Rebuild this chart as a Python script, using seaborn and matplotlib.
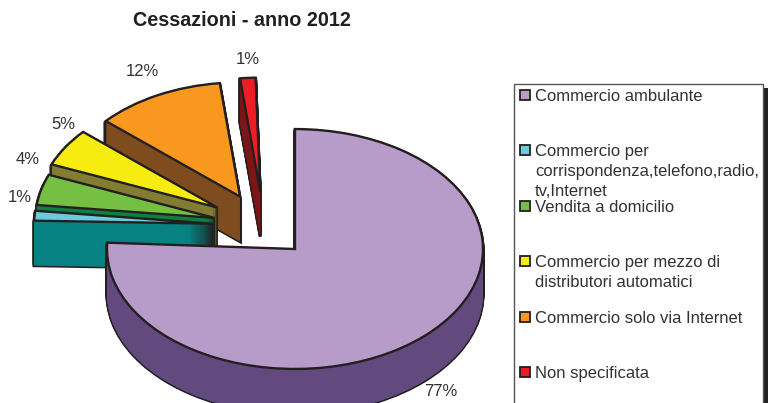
import matplotlib
matplotlib.use("Agg")
import matplotlib.pyplot as plt
import seaborn as sns
from matplotlib.patches import Rectangle

sns.set_theme(style="white", font="Liberation Sans")
plt.rcParams["text.hinting"] = "no_autohint"

##############################################################################
# Data
##############################################################################

categories = [
    "Commercio ambulante",
    "Commercio per\ncorrispondenza,telefono,radio,\ntv,Internet",
    "Vendita a domicilio",
    "Commercio per mezzo di\ndistributori automatici",
    "Commercio solo via Internet",
    "Non specificata",
]
# they round to the printed labels
values = [76.6, 1.4, 4.4, 5.4, 11.8, 1.4]
title = "Cessazioni - anno 2012"

##############################################################################
# Style
##############################################################################

top_colors = sns.color_palette(["#b79cc9", "#6acbdc", "#75c043", "#f7ec0f", "#f9981f", "#ee1c25"])
side_colors = sns.color_palette(["#624a7f", "#078182", "#0e8140", "#827d33", "#7f4c1f", "#7d1517"])
explode = [0, 0.285, 0.285, 0.307, 0.29, 0.30]
line_color = "#231f20"
text_color = "#333132"

WIDTH, HEIGHT = 770, 403
SQUASH = 0.638  # height / width of the tilted pie
DEPTH = 45  # px

pct_xy = [(441, 392), (20, 198), (28, 160), (63, 125), (142, 72), (248, 60)]
legend_y = [95, 150, 206, 261, 317, 372]


def to_data(x_px, y_px):
    return x_px, (HEIGHT - y_px) / SQUASH


fig = plt.figure(figsize=(WIDTH / 100, HEIGHT / 100), dpi=100)
ax = fig.add_axes([0, 0, 1, 1])


def draw_layer(center, radius, start, keep, face, edge, lw, z):
    wedges, _ = ax.pie(
        values,
        # pie takes explode in data units, not as a share of the radius
        explode=[e * radius for e in explode],
        radius=radius,
        center=center,
        startangle=start,
        counterclock=False,
        wedgeprops={"linewidth": lw, "joinstyle": "miter"},
    )
    for i, w in enumerate(wedges):
        if i not in keep:
            w.remove()
            continue
        w.set_facecolor(face[i])
        w.set_edgecolor(edge if edge else face[i])
        # back slices first, main slice goes last
        w.set_zorder((6 - i if i else 7) * 10 + z)


def draw_slices(center_px, radius, start, keep):
    # stack of pies pushed down for the side walls, black silhouette first
    for d in range(DEPTH, 0, -1):
        c = to_data(center_px[0], center_px[1] + d)
        draw_layer(c, radius, start, keep, side_colors, line_color, 2.2, 1)
    for d in range(DEPTH, 0, -1):
        c = to_data(center_px[0], center_px[1] + d)
        draw_layer(c, radius, start, keep, side_colors, None, 0.0, 2)
    c = to_data(*center_px)
    draw_layer(c, radius, start, keep, top_colors, line_color, 1.7, 3)


draw_slices((264, 226), 179, 91.5, [1, 2, 3, 4, 5])
draw_slices((295, 249), 188, 90, [0])

ax.set_aspect("auto")
ax.set_xlim(0, WIDTH)
ax.set_ylim(0, HEIGHT / SQUASH)
ax.axis("off")

# overlay in pixel coordinates for texts and the legend box
lax = fig.add_axes([0, 0, 1, 1], zorder=5)
lax.set_xlim(0, WIDTH)
lax.set_ylim(HEIGHT, 0)
lax.axis("off")

lax.text(242, 21, title, fontsize=14.2, fontweight="bold", color=line_color, ha="center", va="center")

for v, (x, y) in zip(values, pct_xy):
    lax.text(x, y, f"{v:.0f}%", fontsize=12, color=text_color, ha="center", va="center")

lax.add_patch(Rectangle((518, 88), 250, 330, facecolor=line_color, edgecolor="none"))
lax.add_patch(Rectangle((513.5, 84), 249.5, 330, facecolor="white", edgecolor="#555555", linewidth=1.0))

for label, color, y in zip(categories, top_colors, legend_y):
    lax.add_patch(Rectangle((520, y - 5), 10, 10, facecolor=color, edgecolor=line_color, linewidth=1.3))
    lax.text(535, y - 6, label, fontsize=12, color=text_color, ha="left", va="top", linespacing=1.33)

fig.savefig("out.png", dpi=100, facecolor="white")
